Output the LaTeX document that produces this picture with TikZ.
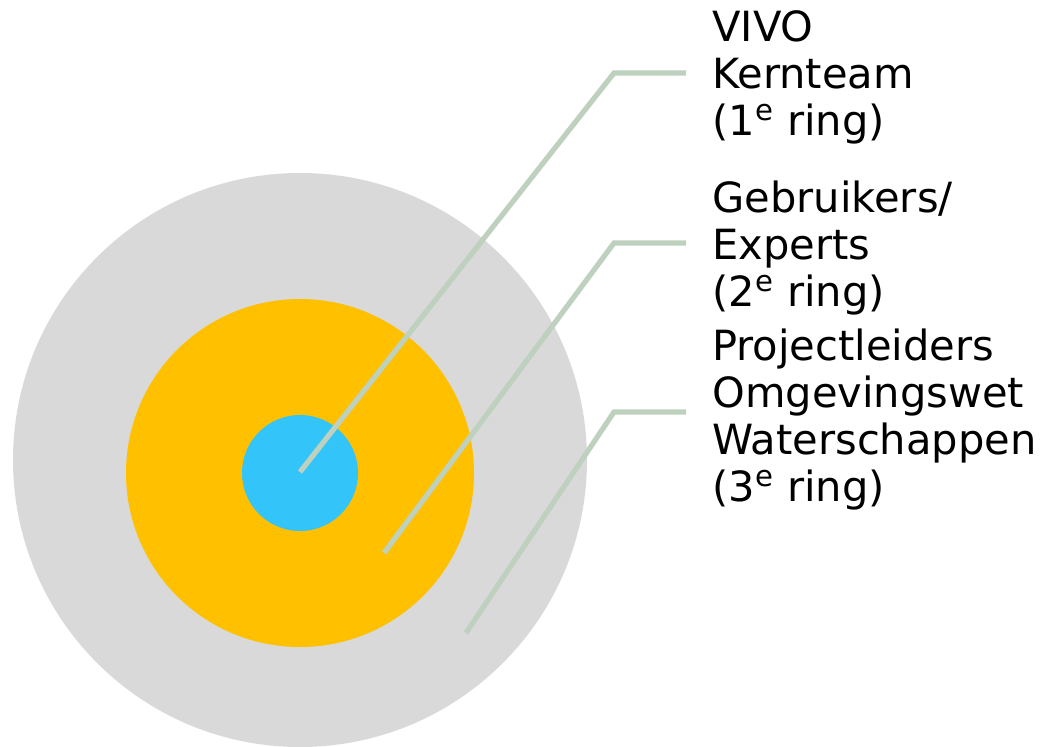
\documentclass[tikz,border=0pt]{standalone}
\usepackage{fontspec}
\setmainfont{DejaVu Sans}
\usetikzlibrary{positioning}

\definecolor{ringgray}{RGB}{217,217,217}
\definecolor{ringorange}{RGB}{255,192,0}
\definecolor{ringblue}{RGB}{51,197,250}
\definecolor{leadgreen}{RGB}{190,208,190}

\tikzset{
  ring/.style={circle, inner sep=0pt, draw=none},
  lead/.style={draw=leadgreen, line width=2.6pt},
  lbl/.style={anchor=base west, inner sep=0pt, font=\fontsize{20.8pt}{23.5pt}\selectfont}
}

\begin{document}
\begin{tikzpicture}[x=0.5pt,y=0.5pt,yscale=-1,xscale=1]
\useasboundingbox (0,0) rectangle (1042,747);

%Shape: rings
\node [ring, fill=ringgray, minimum size=574*0.5pt] (outer) at (300,460) {};
\node [ring, fill=ringorange, minimum size=348*0.5pt] (middle) at (300,473) {};
\node [ring, fill=ringblue, minimum size=116*0.5pt] (core) at (300,473) {};

%Coordinates for the leader lines
\coordinate (s1) at (300,472);
\coordinate (k1) at (614,73);
\coordinate (e1) at (686,73);
\coordinate (s2) at (384,553);
\coordinate (k2) at (614,243);
\coordinate (e2) at (686,243);
\coordinate (s3) at (466,633);
\coordinate (k3) at (614,412);
\coordinate (e3) at (686,412);

%Straight Lines
\draw [lead] (s1) -- (k1) -- (e1);
\draw [lead] (s2) -- (k2) -- (e2);
\draw [lead] (s3) -- (k3) -- (e3);

% Text Node: 1e ring
\node [lbl] (vivo) at (712,42) {VIVO};
\node [lbl] (kern) at (712,89) {Kernteam};
\node [lbl] (ring1) at (712,136) {(1\textsuperscript{e} ring)};
% Text Node: 2e ring
\node [lbl] (gebr) at (712,213) {Gebruikers/};
\node [lbl] (expe) at (712,260) {Experts};
\node [lbl] (ring2) at (712,307) {(2\textsuperscript{e} ring)};
% Text Node: 3e ring
\node [lbl] (proj) at (712,361) {Projectleiders};
\node [lbl] (omge) at (712,408) {Omgevingswet};
\node [lbl] (wate) at (712,455) {Waterschappen};
\node [lbl] (ring3) at (712,502) {(3\textsuperscript{e} ring)};

\end{tikzpicture}
\end{document}
